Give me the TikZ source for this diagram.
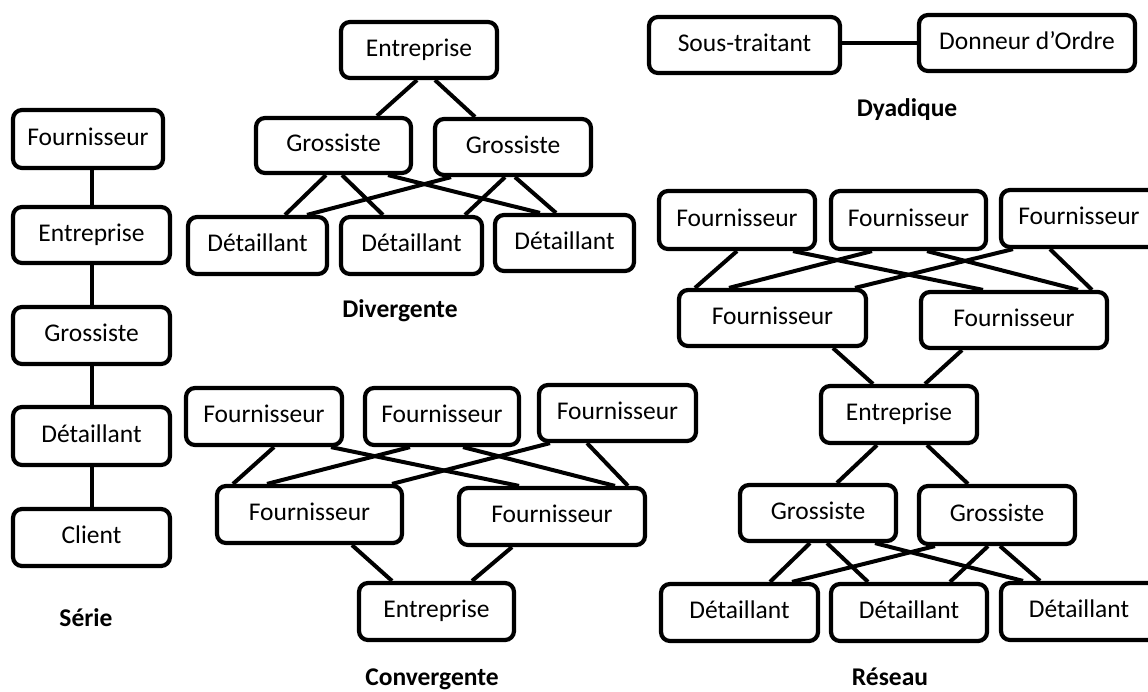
\documentclass[tikz,border=0pt]{standalone}
\usepackage{fontspec}
\setmainfont{Carlito}
\begin{document}
\begin{tikzpicture}[x=1pt,y=-1pt,
  bx/.style={draw, line width=4.2pt, rounded corners=9pt, inner sep=0pt,
    font=\fontsize{25.5}{30}\selectfont, text height=17pt, text depth=5pt, align=center},
  ln/.style={line width=4pt},
  lbl/.style={font=\fontsize{25.5}{30}\selectfont\bfseries, inner sep=0pt, anchor=base}]
\useasboundingbox (0,0) rectangle (1148,691);
\clip (0,0) rectangle (1148,691);
% ---------- Série ----------
\node[bx, minimum width=150pt, minimum height=58pt] (sF) at (88,139) {Fournisseur};
\node[bx, minimum width=157pt, minimum height=56pt] (sE) at (91.5,235) {Entreprise};
\node[bx, minimum width=157pt, minimum height=57pt] (sG) at (91.5,335.5) {Grossiste};
\node[bx, minimum width=157pt, minimum height=58pt] (sD) at (91.5,436) {Détaillant};
\node[bx, minimum width=157pt, minimum height=57pt] (sC) at (91.5,537.5) {Client};
\node[lbl] (sL) at (86,626) {Série};
\draw[ln] (sE.north |- sF.south) -- (sE.north);
\draw[ln] (sE.south) -- (sG.north);
\draw[ln] (sG.south) -- (sD.north);
\draw[ln] (sD.south) -- (sC.north);
% ---------- Divergente ----------
\node[bx, minimum width=156pt, minimum height=56pt] (dE) at (419,50) {Entreprise};
\node[bx, minimum width=155pt, minimum height=55pt] (dG1) at (333.5,145.5) {Grossiste};
\node[bx, minimum width=156pt, minimum height=56pt] (dG2) at (513,147) {Grossiste};
\node[bx, minimum width=139pt, minimum height=57pt] (dD1) at (257.5,245.5) {Détaillant};
\node[bx, minimum width=141pt, minimum height=57pt] (dD2) at (411.5,245.5) {Détaillant};
\node[bx, minimum width=139pt, minimum height=56pt] (dD3) at (564.5,243) {Détaillant};
\node[lbl] (dL) at (400,317) {Divergente};
\draw[ln] ([xshift=-2pt]dE.south) -- ([xshift=43.5pt]dG1.north);
\draw[ln] ([xshift=16pt]dE.south) -- ([xshift=-38pt]dG2.north);
\draw[ln] ([xshift=-7.5pt]dG1.south) -- ([xshift=27.5pt]dD1.north);
\draw[ln] ([xshift=8.5pt]dG1.south) -- ([xshift=-28.5pt]dD2.north);
\draw[ln] ([xshift=54.5pt]dG1.south) -- ([xshift=-24.5pt]dD3.north);
\draw[ln] ([xshift=-62pt]dG2.south) -- ([xshift=49.5pt]dD1.north);
\draw[ln] ([xshift=-8pt]dG2.south) -- ([xshift=53.5pt]dD2.north);
\draw[ln] ([xshift=2pt]dG2.south) -- ([xshift=-8.5pt]dD3.north);
% ---------- Convergente ----------
\node[bx, minimum width=156pt, minimum height=57pt] (cF1) at (264,416.5) {Fournisseur};
\node[bx, minimum width=154pt, minimum height=57pt] (cF2) at (442,416.5) {Fournisseur};
\node[bx, minimum width=157pt, minimum height=56pt] (cF3) at (617.5,413) {Fournisseur};
\node[bx, minimum width=185pt, minimum height=57pt] (cF4) at (309.5,514.5) {Fournisseur};
\node[bx, minimum width=186pt, minimum height=57pt] (cF5) at (552,516.5) {Fournisseur};
\node[bx, minimum width=155pt, minimum height=57pt] (cE) at (436.5,611.5) {Entreprise};
\node[lbl] (cL) at (432,685) {Convergente};
\draw[ln] ([xshift=10pt]cF1.south) -- ([xshift=-76.5pt]cF4.north);
\draw[ln] ([xshift=67pt]cF1.south) -- ([xshift=-33pt]cF5.north);
\draw[ln] ([xshift=-32pt]cF2.south) -- ([xshift=-42.5pt]cF4.north);
\draw[ln] ([xshift=21pt]cF2.south) -- ([xshift=63pt]cF5.north);
\draw[ln] ([xshift=-67.5pt]cF3.south) -- ([xshift=82.5pt]cF4.north);
\draw[ln] ([xshift=-30.5pt]cF3.south) -- ([xshift=76pt]cF5.north);
\draw[ln] ([xshift=42.5pt]cF4.south) -- ([xshift=-44.5pt]cE.north);
\draw[ln] ([xshift=-40pt]cF5.south) -- ([xshift=35.5pt]cE.north);
% ---------- Réseau ----------
\node[bx, minimum width=156pt, minimum height=58pt] (rF1) at (737,220) {Fournisseur};
\node[bx, minimum width=155pt, minimum height=58pt] (rF2) at (908.5,220) {Fournisseur};
\node[bx, minimum width=156pt, minimum height=57pt] (rF3) at (1079,218.5) {Fournisseur};
\node[bx, minimum width=187pt, minimum height=56pt] (rF4) at (772.5,318) {Fournisseur};
\node[bx, minimum width=186pt, minimum height=56pt] (rF5) at (1014,320) {Fournisseur};
\node[bx, minimum width=156pt, minimum height=57pt] (rE) at (899,414.5) {Entreprise};
\node[bx, minimum width=156pt, minimum height=56pt] (rG1) at (818,513) {Grossiste};
\node[bx, minimum width=156pt, minimum height=58pt] (rG2) at (997,515) {Grossiste};
\node[bx, minimum width=157pt, minimum height=57pt] (rD1) at (739.5,612.5) {Détaillant};
\node[bx, minimum width=156pt, minimum height=57pt] (rD2) at (909,612.5) {Détaillant};
\node[bx, minimum width=156pt, minimum height=57pt] (rD3) at (1079,611.5) {Détaillant};
\node[lbl] (rL) at (890,685) {Réseau};
\draw[ln] (rF1.south) -- ([xshift=-77.5pt]rF4.north);
\draw[ln] ([xshift=56pt]rF1.south) -- ([xshift=-31pt]rF5.north);
\draw[ln] ([xshift=-36.5pt]rF2.south) -- ([xshift=-43.5pt]rF4.north);
\draw[ln] ([xshift=18.5pt]rF2.south) -- ([xshift=64pt]rF5.north);
\draw[ln] ([xshift=-66pt]rF3.south) -- ([xshift=82.5pt]rF4.north);
\draw[ln] ([xshift=-29pt]rF3.south) -- ([xshift=78pt]rF5.north);
\draw[ln] ([xshift=60.5pt]rF4.south) -- ([xshift=-26pt]rE.north);
\draw[ln] ([xshift=-52pt]rF5.south) -- ([xshift=26pt]rE.north);
\draw[ln] ([xshift=-22pt]rE.south) -- ([xshift=19pt]rG1.north);
\draw[ln] ([xshift=28pt]rE.south) -- ([xshift=-29pt]rG2.north);
\draw[ln] ([xshift=-8pt]rG1.south) -- ([xshift=30.5pt]rD1.north);
\draw[ln] ([xshift=9pt]rG1.south) -- ([xshift=-41pt]rD2.north);
\draw[ln] ([xshift=57pt]rG1.south) -- ([xshift=-56pt]rD3.north);
\draw[ln] ([xshift=-62pt]rG2.south) -- ([xshift=52.5pt]rD1.north);
\draw[ln] ([xshift=-9pt]rG2.south) -- ([xshift=41pt]rD2.north);
\draw[ln] ([xshift=3pt]rG2.south) -- ([xshift=-39pt]rD3.north);
% ---------- Dyadique ----------
\node[bx, minimum width=191pt, minimum height=56pt] (yS) at (744.5,45) {Sous-traitant};
\node[bx, minimum width=216pt, minimum height=56pt] (yD) at (1027,43) {Donneur d’Ordre};
\node[lbl] (yL) at (907,116) {Dyadique};
\draw[ln] (yS.east |- yD.west) -- (yD.west);
\end{tikzpicture}
\end{document}
